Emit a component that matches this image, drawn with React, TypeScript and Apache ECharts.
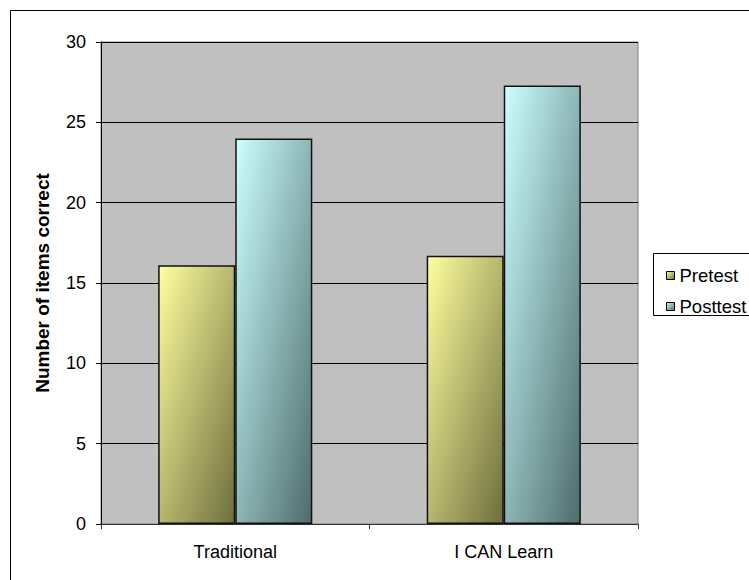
import React, { useEffect, useRef } from "react";
import * as echarts from "echarts";

const categories = ["Traditional", "I CAN Learn"];
const pretest = [16.1, 16.7];
const posttest = [24.0, 27.3];
const seriesNames = ["Pretest", "Posttest"];

export default function App() {
  const ref = useRef<HTMLDivElement>(null);
  useEffect(() => {
    if (!ref.current) return;
    const chart = echarts.init(ref.current, null, { renderer: "svg" });
    const font = "Arial, 'Liberation Sans', sans-serif";
    const grad = (a: string, b: string) =>
      new echarts.graphic.LinearGradient(0, 0, 1, 1, [
        { offset: 0, color: a },
        { offset: 1, color: b },
      ]);
    chart.setOption({
      animation: false,
      backgroundColor: "#ffffff",
      textStyle: { fontFamily: font },
      grid: {
        left: 101,
        right: 111,
        top: 42,
        bottom: 56,
        show: true,
        backgroundColor: "#C0C0C0",
        borderColor: "#808080",
        borderWidth: 1,
      },
      graphic: [
        {
          type: "rect",
          shape: { x: 10.5, y: 10.5, width: 800, height: 600 },
          style: { fill: "none", stroke: "#000", lineWidth: 1 },
          silent: true,
        },
        {
          type: "rect",
          shape: { x: 653.5, y: 253.5, width: 150, height: 62 },
          style: { fill: "#fff", stroke: "#000", lineWidth: 1 },
          silent: true,
          z: 1,
        },
      ],
      legend: {
        orient: "vertical",
        left: 661,
        top: 261,
        itemWidth: 8,
        itemHeight: 8,
        itemGap: 12,
        icon: "rect",
        z: 10,
        data: seriesNames,
        itemStyle: { borderColor: "#000", borderWidth: 1 },
        textStyle: { fontSize: 18.5, color: "#000", fontFamily: font, padding: [0, 0, 0, 0] },
      },
      xAxis: {
        type: "category",
        data: categories,
        axisLine: { lineStyle: { color: "#333", width: 1 } },
        axisTick: { show: true, length: 5, lineStyle: { color: "#333" } },
        axisLabel: { fontSize: 18, color: "#000", margin: 19, fontFamily: font },
      },
      yAxis: {
        type: "value",
        min: 0,
        max: 30,
        interval: 5,
        name: "Number of items correct",
        nameLocation: "middle",
        nameGap: 49,
        nameTextStyle: { fontSize: 19, fontWeight: "bold", color: "#000", fontFamily: font },
        axisLine: { show: true, lineStyle: { color: "#000" } },
        axisTick: { show: true, length: 5, lineStyle: { color: "#000" } },
        axisLabel: { fontSize: 18, color: "#000", margin: 15, fontFamily: font },
        splitLine: { lineStyle: { color: "#000", width: 1 } },
      },
      series: [
        {
          name: seriesNames[0],
          type: "bar",
          data: pretest,
          barGap: "0%",
          barCategoryGap: "42.6%",
          itemStyle: {
            color: grad("#FFFF9E", "#6E6E3E"),
            borderColor: "#111",
            borderWidth: 1.5,
          },
        },
        {
          name: seriesNames[1],
          type: "bar",
          data: posttest,
          barGap: "0%",
          barCategoryGap: "42.6%",
          itemStyle: {
            color: grad("#CCFFFF", "#4E6C6C"),
            borderColor: "#111",
            borderWidth: 1.5,
          },
        },
      ],
    });
    return () => chart.dispose();
  }, []);
  return (
    <div
      ref={ref}
      style={{ position: "fixed", left: 0, top: 0, width: 749, height: 580 }}
    />
  );
}
